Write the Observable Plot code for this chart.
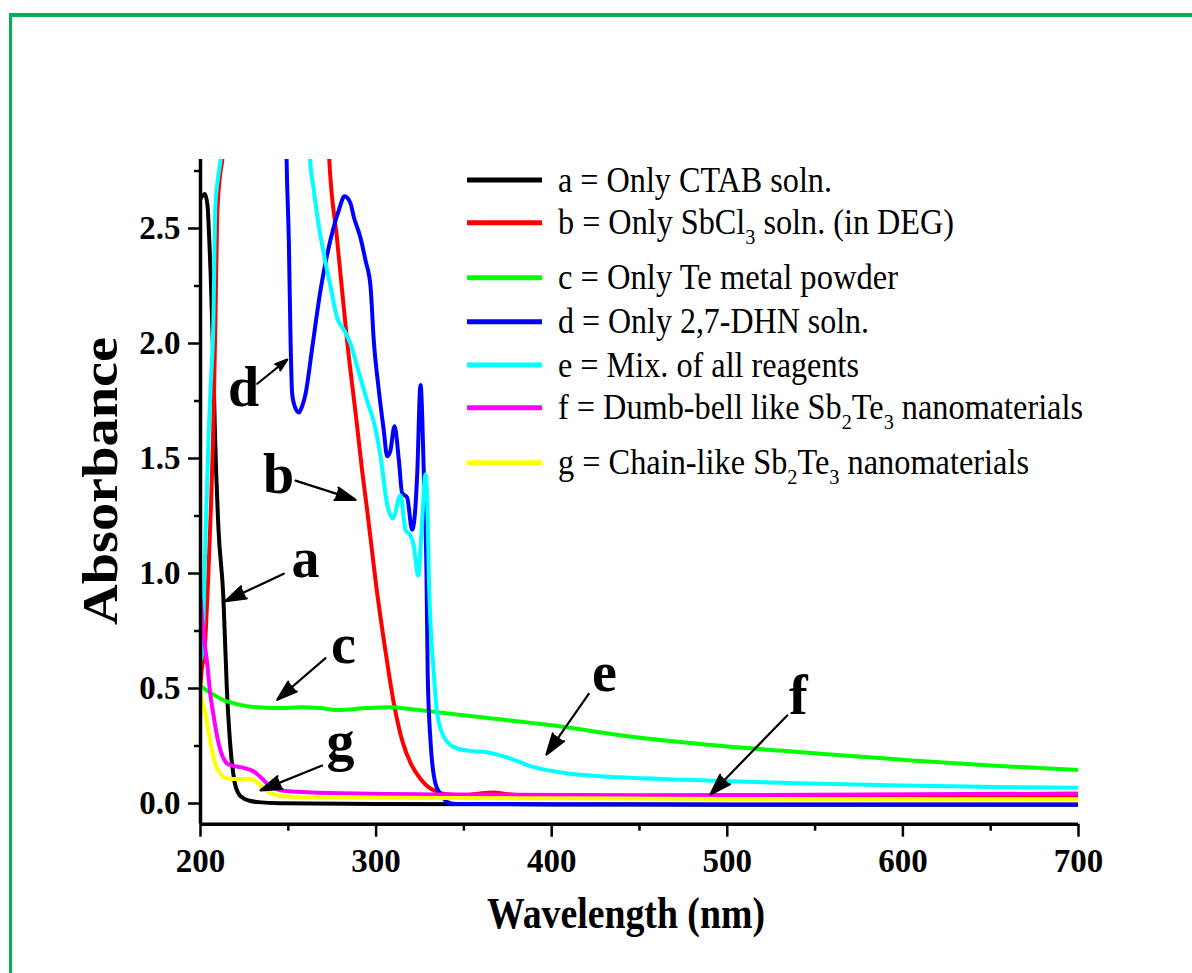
<!DOCTYPE html>
<html><head><meta charset="utf-8">
<script src="https://cdn.jsdelivr.net/npm/d3@7"></script>
<script src="https://cdn.jsdelivr.net/npm/@observablehq/plot@0.6"></script>
<style>
html,body{margin:0;padding:0;background:#fff;}
#wrap{position:relative;width:1192px;height:973px;overflow:hidden;background:#fff;}
#frame{position:absolute;left:9px;top:13px;width:2000px;height:2000px;border-left:3.5px solid #00b050;border-top:4px solid #00b050;pointer-events:none;}
</style></head><body>
<div id="wrap"><div id="chart"></div><div id="frame"></div></div>
<script>
// ---------- data (wavelength nm, absorbance) ----------
const curveA = [[200,2.63],[202.5,2.65],[204,2.6],[205,2.45],[205.8,2.3],[207,2.0],[208.2,1.62],[210.2,1.2],[213,0.9],[215,0.5],[217,0.25],[219.5,0.09],[221.5,0.045],[224,0.025],[228,0.012],[233,0.006],[245,0.001],[300,-0.002],[400,-0.004],[500,-0.005],[700,-0.005]];
const curveB = [[200,0.52],[201,0.6],[202,0.63],[203,0.75],[204.5,1.0],[206,1.3],[207.2,1.6],[208.5,2.1],[209.5,2.55],[211,2.72],[213,2.85],[214,3.2],[272,3.2],[273,2.85],[277.8,2.45],[283.5,2.01],[289.2,1.64],[292,1.45],[295,1.27],[300,0.95],[305,0.68],[310,0.44],[315,0.27],[320,0.17],[325,0.11],[330,0.07],[335,0.05],[340,0.04],[350,0.035],[360,0.045],[367,0.048],[375,0.04],[390,0.034],[450,0.033],[550,0.034],[700,0.035]];
const curveC = [[200,0.51],[205,0.485],[213,0.45],[222,0.43],[230,0.42],[245,0.415],[257,0.418],[268,0.415],[278,0.407],[295,0.415],[308,0.418],[320,0.41],[335,0.397],[360,0.375],[400,0.34],[440,0.296],[480,0.262],[530,0.23],[553,0.216],[600,0.19],[650,0.165],[700,0.146]];
const curveD = [[200,3.2],[248.3,3.2],[249,2.81],[250.3,2.45],[251.3,2.01],[252.2,1.78],[254,1.72],[256,1.70],[258,1.73],[259.8,1.78],[263.6,1.98],[268.3,2.23],[274,2.45],[278.8,2.58],[282,2.64],[285.4,2.61],[287.3,2.55],[291.1,2.46],[294,2.36],[296.8,2.25],[298.7,2.01],[301.5,1.80],[304.4,1.62],[306.3,1.51],[308,1.53],[310.5,1.64],[313,1.49],[314.8,1.35],[317.7,1.33],[320.5,1.19],[322,1.25],[323.4,1.43],[325.3,1.82],[327.2,1.43],[328.7,1.0],[329.4,0.56],[331,0.27],[333.8,0.086],[336.7,0.042],[340.5,0.006],[345,-0.002],[400,-0.003],[500,-0.004],[700,-0.004]];
const curveE = [[200,0.62],[201,0.66],[202,0.9],[203,1.2],[204.7,1.62],[206,1.85],[207.2,2.05],[208.5,2.6],[210,2.72],[212,2.85],[213,3.2],[261,3.2],[262.3,2.81],[264.5,2.67],[266.4,2.56],[270.2,2.39],[274,2.25],[277.8,2.11],[281.6,2.06],[285.4,2.0],[289.2,1.90],[294.9,1.75],[299,1.65],[302.5,1.51],[306.3,1.30],[309.6,1.24],[313.9,1.34],[316.7,1.19],[319.6,1.165],[321.5,1.12],[323.9,0.99],[326,1.2],[328.1,1.43],[329.2,1.3],[330,1.0],[332.9,0.56],[334.8,0.39],[338.6,0.29],[344.3,0.245],[352,0.23],[363.3,0.223],[374.7,0.20],[389.8,0.158],[410.7,0.129],[439.2,0.114],[477.2,0.103],[515,0.093],[553,0.086],[600,0.078],[650,0.072],[700,0.068]];
const curveF = [[200,0.89],[202,0.72],[203.8,0.61],[205.5,0.48],[207.6,0.375],[209.5,0.29],[211.4,0.23],[213.5,0.19],[215.2,0.173],[219,0.163],[222.8,0.158],[226,0.152],[229.4,0.143],[233.2,0.122],[238,0.086],[242,0.066],[245.6,0.057],[252,0.052],[260.8,0.049],[289,0.043],[342,0.039],[450,0.036],[550,0.038],[700,0.043]];
const curveG = [[200,0.48],[201.5,0.43],[202.8,0.39],[204.5,0.31],[206.6,0.23],[208.5,0.17],[211.4,0.129],[214,0.112],[217.1,0.107],[228.5,0.107],[232.3,0.093],[236,0.064],[240,0.045],[243.7,0.035],[250,0.03],[257,0.027],[342,0.024],[500,0.02],[700,0.018]];

const seriesKeys = ["a","b","c","d","e","f","g"];
const seriesColors = ["#000000","#ff0000","#00ff00","#0000ff","#00ffff","#ff00ff","#ffff00"];
const legendLabels = ["a = Only CTAB soln.","b = Only SbCl_3 soln. (in DEG)","c = Only Te metal powder","d = Only 2,7-DHN soln.","e = Mix. of all reagents","f = Dumb-bell like Sb_2Te_3 nanomaterials","g = Chain-like Sb_2Te_3 nanomaterials"];

const xMajorTicks = [200,300,400,500,600,700];
const xMinorTicks = [250,350,450,550,650];
const xTickLabels = ["200","300","400","500","600","700"];
const yMajorTicks = [0,0.5,1.0,1.5,2.0,2.5];
const yMinorTicks = [0.25,0.75,1.25,1.75,2.25,2.75];
const yTickLabels = ["0.0","0.5","1.0","1.5","2.0","2.5"];
const xTitle = "Wavelength (nm)";
const yTitle = "Absorbance";

// annotation letters (baseline position in data units) and arrows
const annLetters = ["a","b","c","d","e","f","g"];
const annLetterX = [259.8,244.4,281.4,224.5,430,540.5,279.7];
const annLetterY = [0.983,1.348,0.609,1.73,0.491,0.391,0.187];
const arrowX1 = [247.4,254.1,271.2,232.3,421.1,534.1,269.3];
const arrowY1 = [0.999,1.404,0.632,1.825,0.477,0.383,0.165];
const arrowX2 = [214.2,288.3,243.7,249.4,397,490.4,234.2];
const arrowY2 = [0.88,1.32,0.451,1.93,0.213,0.039,0.057];

const allCurves = [curveA,curveB,curveC,curveD,curveE,curveF,curveG];
const rows = allCurves.flatMap((pts,i)=>pts.map(([x,y])=>({key:seriesKeys[i],x,y})));

const FONT = "'Liberation Serif','Times New Roman',serif";
const yMin = -0.09, yMax = 2.8;

const chart = Plot.plot({
  width: 1192, height: 973,
  marginLeft: 200, marginRight: 114, marginTop: 159, marginBottom: 149.3,
  x: {domain:[200,700]},
  y: {domain:[yMin,yMax]},
  color: {domain: seriesKeys, range: seriesColors},
  style: {fontFamily: FONT, fontSize: "33px", fontWeight: "bold", color: "black", background: "white"},
  marks: [
    Plot.line(rows, {x:"x", y:"y", z:"key", stroke:"key", strokeWidth:4, clip:true, curve:"monotone-x"}),
    Plot.axisX({ticks: xMajorTicks, tickSize: 13, tickPadding: 11, strokeWidth: 2.5, tickFormat: d => xTickLabels[xMajorTicks.indexOf(d)], label: null}),
    Plot.axisX({ticks: xMinorTicks, tickSize: 7, strokeWidth: 2.5, tickFormat: () => "", label: null}),
    Plot.axisY({ticks: yMajorTicks, tickSize: 12, tickPadding: 8, strokeWidth: 2.5, tickFormat: d => yTickLabels[yMajorTicks.indexOf(d)], label: null}),
    Plot.axisY({ticks: yMinorTicks, tickSize: 6, strokeWidth: 2.5, tickFormat: () => "", label: null}),
    Plot.ruleX([200], {y1: yMin, y2: yMax, strokeWidth: 3.5}),
    Plot.ruleY([yMin], {x1: 200, x2: 700, strokeWidth: 3.5}),
    Plot.arrow(annLetters, {x1:(d,i)=>arrowX1[i], y1:(d,i)=>arrowY1[i], x2:(d,i)=>arrowX2[i], y2:(d,i)=>arrowY2[i], stroke:"black", strokeWidth:2.2, headLength:15, headAngle:36}),
    Plot.text(annLetters, {x:(d,i)=>annLetterX[i], y:(d,i)=>annLetterY[i], text:d=>d, fontSize:56, fontWeight:"bold", lineAnchor:"bottom", fill:"black"})
  ]
});
document.getElementById("chart").appendChild(chart);
const svgEl = chart.tagName.toLowerCase() === "svg" ? chart : chart.querySelector("svg");
const svg = d3.select(svgEl);

// filled arrowheads, as in the original
svgEl.querySelectorAll('g[aria-label="arrow"] path').forEach(p => { p.setAttribute("fill", "black"); p.style.fill = "black"; });

// axis titles (condensed Times-like bold)
svg.append("text").attr("transform","translate(100,481) rotate(-90)")
  .attr("text-anchor","middle").attr("dy","0.34em")
  .attr("font-family",FONT).attr("font-weight","bold").attr("font-size",50).attr("fill","black")
  .attr("textLength",288).attr("lengthAdjust","spacingAndGlyphs").text(yTitle);
svg.append("text").attr("x",626).attr("y",928)
  .attr("text-anchor","middle")
  .attr("font-family",FONT).attr("font-weight","bold").attr("font-size",44).attr("fill","black")
  .attr("textLength",278).attr("lengthAdjust","spacingAndGlyphs").text(xTitle);

// legend
const legendRowY = [180,222.7,277.7,321.7,365,407.7,462.7];
const legendTextWidth = [274,396,340,311,301,525,471];
const lg = svg.append("g").attr("aria-label","legend")
  .attr("font-family", FONT).attr("font-weight","normal").attr("font-size",35).attr("text-anchor","start");
legendLabels.forEach((lab,i) => {
  const y = legendRowY[i];
  lg.append("line").attr("x1",467).attr("x2",542).attr("y1",y).attr("y2",y)
    .attr("stroke",seriesColors[i]).attr("stroke-width",5);
  const t = lg.append("text").attr("x",558).attr("y",y+11.7).attr("fill","black")
    .attr("textLength",legendTextWidth[i]).attr("lengthAdjust","spacingAndGlyphs");
  const parts = lab.split(/(_\d)/).filter(p => p.length);
  let shifted = false;
  parts.forEach(p => {
    if (p.startsWith("_")) {
      t.append("tspan").attr("font-size",22).attr("dy",10).text(p.slice(1));
      shifted = true;
    } else {
      const s = t.append("tspan").text(p);
      if (shifted) { s.attr("dy",-10); shifted = false; }
    }
  });
});
</script></body></html>
